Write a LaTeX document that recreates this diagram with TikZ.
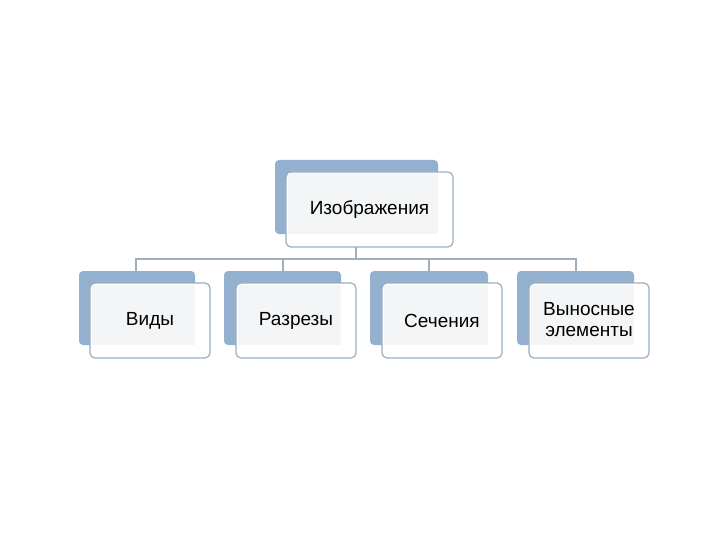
\documentclass[tikz,border=0pt]{standalone}
\usepackage{fontspec}
\setmainfont{Liberation Sans}
\definecolor{backb}{HTML}{93B1CF}
\definecolor{frontb}{HTML}{9AAEC4}
\definecolor{inner}{HTML}{F3F5F7}
\definecolor{conn}{HTML}{A3AEBB}
\begin{document}
\begin{tikzpicture}[x=1pt,y=-1pt,
  backbox/.style={fill=backb,rounded corners=4pt},
  frontbox/.style={draw=frontb,line width=1.2pt,fill=white,rounded corners=5pt},
  lbl/.style={font=\fontsize{19}{21}\selectfont,align=center,text=black},
  conline/.style={draw=conn,line width=1.2pt}]
\useasboundingbox (0,0) rectangle (720,540);
\newcommand{\mybox}[8]{%
  \fill[backbox] (#1,#2) rectangle (#3,#4);
  \draw[frontbox] (#5,#6) rectangle (#7,#8);
  \fill[inner] (#5+1.5,#6+1.5) rectangle (#3,#4);
}
\mybox{275}{160}{438}{234}{286}{172}{453}{247}
\node[lbl] (top) at (369.5,210) {Изображения};
\mybox{79}{271}{195}{345}{90}{283}{210}{358}
\node[lbl] (a) at (150,321) {Виды};
\mybox{224}{271}{341}{345}{236}{283}{356}{358}
\node[lbl] (b) at (296,321) {Разрезы};
\mybox{370}{271}{488}{345}{382}{283}{502}{358}
\node[lbl] (c) at (442,321) {Сечения};
\mybox{517}{271}{634}{345}{529}{283}{649}{358}
\node[lbl] (d) at (589,320) {Выносные\\элементы};
\coordinate (tb) at (356,247);
\coordinate (hub) at (356,259);
\coordinate (ca) at (136,271);
\coordinate (cb) at (283,271);
\coordinate (cc) at (429,271);
\coordinate (cd) at (576,271);
\draw[conline] (tb) -- (hub);
\draw[conline] (ca) |- (hub) -| (cd);
\draw[conline] (cb) -- (cb |- hub);
\draw[conline] (cc) -- (cc |- hub);
\end{tikzpicture}
\end{document}
